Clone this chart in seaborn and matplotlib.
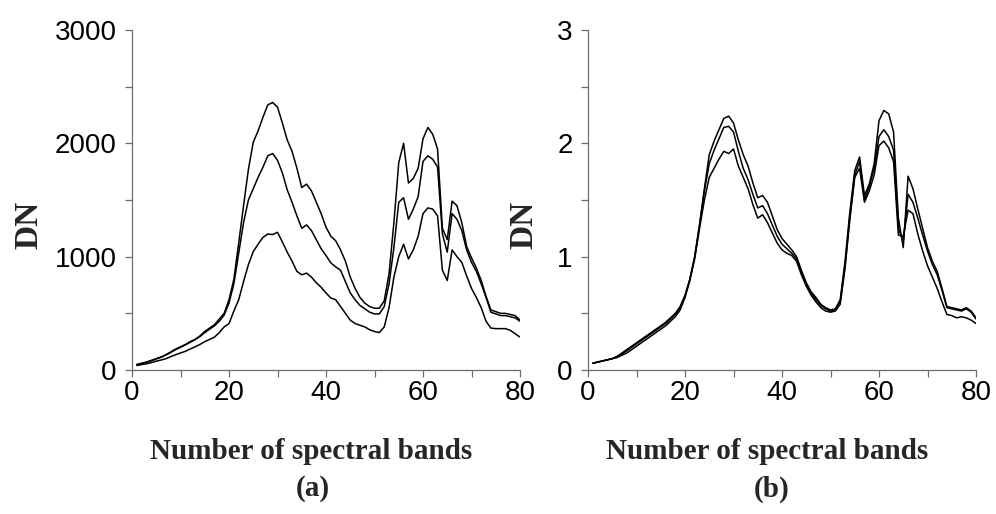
import numpy as np
import pandas as pd
import matplotlib
matplotlib.use("Agg")
import matplotlib.pyplot as plt
from matplotlib.ticker import MultipleLocator
import seaborn as sns

# Spectral band index
bands = list(range(1, 81))

# (a) raw digital numbers for three samples
dn_high = [50, 60, 70, 85, 100, 115, 135, 160, 185, 205,
           225, 250, 270, 300, 340, 370, 400, 450, 500, 620,
           800, 1120, 1450, 1770, 2010, 2110, 2230, 2340, 2360, 2320,
           2180, 2030, 1930, 1780, 1610, 1640, 1580, 1480, 1380, 1260,
           1180, 1140, 1060, 960, 820, 720, 640, 590, 560, 545,
           545, 610, 850, 1300, 1830, 2000, 1650, 1690, 1780, 2040,
           2140, 2080, 1950, 1250, 1150, 1490, 1450, 1300, 1090, 990,
           900, 790, 650, 530, 515, 500, 500, 490, 480, 440]
dn_mid = [45, 55, 68, 82, 98, 112, 132, 155, 180, 200,
          222, 245, 268, 295, 330, 360, 390, 430, 485, 590,
          760, 1030, 1300, 1500, 1600, 1700, 1790, 1890, 1910, 1850,
          1740, 1590, 1480, 1360, 1250, 1280, 1230, 1150, 1070, 1010,
          945, 910, 880, 780, 680, 620, 570, 540, 510, 495,
          495, 560, 760, 1080, 1480, 1520, 1330, 1420, 1530, 1840,
          1890, 1860, 1790, 1200, 1040, 1380, 1330, 1230, 1060, 950,
          870, 760, 640, 510, 495, 480, 480, 470, 460, 430]
dn_low = [40, 48, 55, 65, 78, 88, 100, 118, 135, 150,
          165, 185, 205, 225, 250, 270, 290, 330, 380, 410,
          520, 620, 780, 930, 1045, 1110, 1170, 1200, 1195, 1215,
          1130, 1040, 960, 870, 840, 855, 820, 770, 730, 680,
          635, 620, 560, 500, 440, 410, 395, 380, 355, 340,
          330, 380, 550, 820, 1000, 1110, 980, 1060, 1180, 1380,
          1430, 1420, 1360, 880, 790, 1060, 1000, 950, 830, 720,
          640, 550, 430, 370, 365, 365, 365, 350, 320, 290]

# (b) normalised values for the same three samples
nv_high = [0.06, 0.07, 0.08, 0.09, 0.10, 0.12, 0.15, 0.18, 0.21, 0.24,
           0.27, 0.30, 0.33, 0.36, 0.39, 0.42, 0.46, 0.50, 0.56, 0.66,
           0.80, 1.00, 1.28, 1.60, 1.90, 2.02, 2.12, 2.22, 2.24, 2.18,
           2.03, 1.90, 1.80, 1.65, 1.52, 1.54, 1.48, 1.36, 1.24, 1.16,
           1.11, 1.06, 1.00, 0.88, 0.77, 0.69, 0.64, 0.58, 0.55, 0.53,
           0.54, 0.62, 0.96, 1.40, 1.76, 1.88, 1.54, 1.64, 1.82, 2.20,
           2.29, 2.26, 2.10, 1.34, 1.08, 1.71, 1.60, 1.42, 1.25, 1.08,
           0.96, 0.87, 0.72, 0.56, 0.55, 0.54, 0.53, 0.55, 0.52, 0.46]
nv_mid = [0.06, 0.07, 0.08, 0.09, 0.10, 0.12, 0.14, 0.17, 0.20, 0.23,
          0.26, 0.29, 0.32, 0.35, 0.38, 0.41, 0.45, 0.49, 0.55, 0.65,
          0.80, 1.00, 1.28, 1.58, 1.82, 1.94, 2.04, 2.14, 2.15, 2.10,
          1.93, 1.78, 1.68, 1.55, 1.43, 1.45, 1.38, 1.28, 1.18, 1.11,
          1.07, 1.03, 0.98, 0.86, 0.76, 0.68, 0.62, 0.57, 0.54, 0.52,
          0.53, 0.60, 0.92, 1.36, 1.72, 1.84, 1.50, 1.62, 1.78, 2.06,
          2.12, 2.06, 1.94, 1.25, 1.13, 1.55, 1.48, 1.34, 1.19, 1.05,
          0.93, 0.84, 0.70, 0.55, 0.54, 0.53, 0.52, 0.54, 0.51, 0.45]
nv_low = [0.06, 0.07, 0.08, 0.09, 0.10, 0.11, 0.13, 0.15, 0.18, 0.21,
          0.24, 0.27, 0.30, 0.33, 0.36, 0.39, 0.43, 0.47, 0.53, 0.64,
          0.79, 0.98, 1.25, 1.50, 1.70, 1.78, 1.86, 1.93, 1.91, 1.95,
          1.80, 1.70, 1.60, 1.46, 1.34, 1.37, 1.30, 1.21, 1.12, 1.06,
          1.03, 1.01, 0.96, 0.84, 0.74, 0.66, 0.60, 0.55, 0.52, 0.51,
          0.52, 0.58, 0.90, 1.33, 1.70, 1.78, 1.48, 1.58, 1.72, 1.98,
          2.02, 1.96, 1.84, 1.19, 1.18, 1.41, 1.38, 1.20, 1.05, 0.92,
          0.82, 0.72, 0.60, 0.49, 0.48, 0.46, 0.47, 0.46, 0.44, 0.41]

x_ticks = [0, 20, 40, 60, 80]
dn_ticks = [0, 1000, 2000, 3000]
nv_ticks = [0, 1, 2, 3]

sns.set_style("ticks")
plt.rcParams["font.family"] = ["Liberation Sans", "DejaVu Sans"]

W, H = 996, 514
fig = plt.figure(figsize=(W / 100, H / 100), dpi=100)

def px_axes(left, top, right, bottom):
    return fig.add_axes([left / W, 1 - bottom / H, (right - left) / W, (bottom - top) / H])

ax_a = px_axes(132, 30, 520, 370)
ax_b = px_axes(588, 30, 976, 370)

label_font = dict(family=["Liberation Serif", "DejaVu Serif"], weight="bold")
axis_grey = "#6e6e6e"

panels = [
    (ax_a, [dn_high, dn_mid, dn_low], dn_ticks, 500, "(a)", 0.465, -0.225),
    (ax_b, [nv_high, nv_mid, nv_low], nv_ticks, 0.5, "(b)", 0.473, -0.125),
]

for ax, series, yticks, yminor, tag, tag_x, dn_x in panels:
    for vals in series:
        sns.lineplot(x=bands, y=vals, ax=ax, color="black", linewidth=1.1)
    ax.set_xlim(0, 80)
    ax.set_ylim(yticks[0], yticks[-1])
    ax.set_xticks(x_ticks)
    ax.set_yticks(yticks)
    ax.xaxis.set_minor_locator(MultipleLocator(10))
    ax.yaxis.set_minor_locator(MultipleLocator(yminor))
    ax.tick_params(which="both", direction="out", length=5, width=0.9,
                   color=axis_grey, labelsize=20, labelcolor="black")
    ax.tick_params(axis="x", pad=2)
    ax.tick_params(axis="y", pad=6)
    for side in ("top", "right"):
        ax.spines[side].set_visible(False)
    for side in ("left", "bottom"):
        ax.spines[side].set_color(axis_grey)
        ax.spines[side].set_linewidth(0.9)
    ax.set_xlabel("Number of spectral bands", fontsize=21, **label_font)
    ax.xaxis.set_label_coords(0.461, -0.2)
    ax.set_ylabel("DN", fontsize=24, **label_font)
    ax.yaxis.set_label_coords(dn_x, 0.426)
    ax.text(tag_x, -0.31, tag, transform=ax.transAxes, ha="center", va="top",
            fontsize=21, **label_font)

fig.savefig("out.png", dpi=100)
